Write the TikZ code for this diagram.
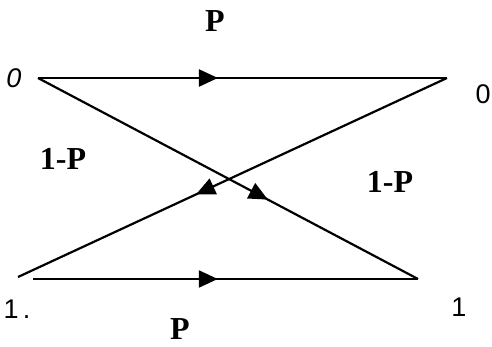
\documentclass[tikz,border=0pt]{standalone}
\usepackage{fontspec}
\setmainfont{Liberation Serif}
\newfontfamily\digitfont{Liberation Sans}
\usetikzlibrary{arrows.meta,decorations.markings}
\begin{document}
\begin{tikzpicture}[x=0.5pt,y=-0.5pt,
  chan/.style={line width=1.1pt},
  midarrow/.style={postaction={decorate},decoration={markings,
     mark=at position #1 with {\arrow{Triangle[length=9.5pt,width=8.5pt]}}}},
  plabel/.style={font=\fontsize{16}{18}\selectfont\bfseries,inner sep=0pt},
  dlabel/.style={font=\digitfont\fontsize{13.5}{15}\selectfont,inner sep=0pt}]
\useasboundingbox[fill=white] (0,0) rectangle (492,347);
% end points
\coordinate (tl) at (38,78);
\coordinate (tr) at (447,78);
\coordinate (bld) at (18,277);
\coordinate (blh) at (33,279);
\coordinate (br) at (418,279);
% connectors
\draw[chan,midarrow=0.44] (tl) -- (tr);
\draw[chan,midarrow=0.605] (tl) -- (br);
\draw[chan,midarrow=0.585] (tr) -- (bld);
\draw[chan,midarrow=0.48] (blh) -- (br);
% labels
\node[plabel] (ptop) at (215,21) {P};
\node[plabel] (pbot) at (180,329) {P};
\node[plabel] (qleft) at (63,159) {1-P};
\node[plabel] (qright) at (390,182) {1-P};
\node[dlabel,font=\digitfont\itshape\fontsize{13.5}{15}\selectfont] (in0) at (14,78) {0};
\node[dlabel] (out0) at (483,94) {0};
\node[dlabel] (in1) at (17,309) {1\hspace{2pt}.};
\node[dlabel] (out1) at (459,307) {1};
\end{tikzpicture}
\end{document}
